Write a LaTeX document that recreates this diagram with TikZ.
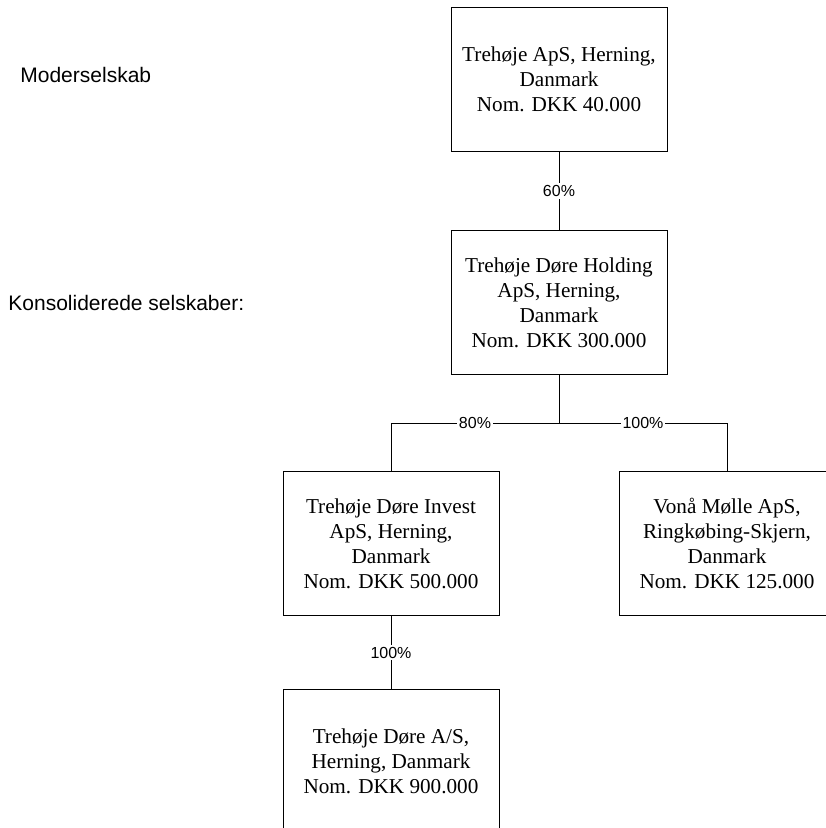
\documentclass[tikz,border=0pt]{standalone}
\usepackage{fontspec}
\setmainfont{Liberation Serif}
\setsansfont{Liberation Sans}
\usepackage{tikz}
\usetikzlibrary{positioning, calc}

\begin{document}
\begin{tikzpicture}[
    node distance=39pt and 36pt,
    company/.style={rectangle, draw=black, line width=0.5pt, fill=white,
        minimum width=108pt, minimum height=72pt, align=center, inner sep=2pt,
        font=\fontsize{10.6}{12.5}\selectfont},
    share/.style={font=\sffamily\fontsize{8}{9}\selectfont, fill=white, inner sep=1pt, midway},
    tierlabel/.style={font=\sffamily\fontsize{10.5}{12}\selectfont, anchor=west, inner sep=0pt},
    link/.style={line width=0.5pt, color=black},
]

\useasboundingbox (0,0) rectangle (412.5pt,-414pt);

% --- Parent ---
\node[company] (parent) at (279.5pt,-39.75pt) {Trehøje ApS, Herning,\\Danmark\\Nom. DKK 40.000};

% --- Holding ---
\node[company, below=39pt of parent] (holding) {Trehøje Døre Holding\\ApS, Herning,\\Danmark\\Nom. DKK 300.000};

% --- Subsidiaries ---
\node[company, below=48pt of holding, xshift=-84pt] (invest) {Trehøje Døre Invest\\ApS, Herning,\\Danmark\\Nom. DKK 500.000};
\node[company, below=48pt of holding, xshift=84pt] (vonaa) {Vonå Mølle ApS,\\Ringkøbing-Skjern,\\Danmark\\Nom. DKK 125.000};
\node[company, below=36.5pt of invest] (doere) {Trehøje Døre A/S,\\Herning, Danmark\\Nom. DKK 900.000};

% --- Tier labels ---
\node[tierlabel] (modertxt) at (10pt,-37.5pt) {Moderselskab};
\node[tierlabel] (konstxt) at (4pt,-151.5pt) {Konsoliderede selskaber:};

% --- Ownership lines ---
\coordinate (split) at ($(holding.south)+(0,-24pt)$);
\draw[link] (parent) -- (holding) node[share] {60\%};
\draw[link] (holding) -- (split);
\draw[link] (split) -| (invest) node[share, pos=0.25] {80\%};
\draw[link] (split) -| (vonaa) node[share, pos=0.25] {100\%};
\draw[link] (invest) -- (doere) node[share] {100\%};

\end{tikzpicture}
\end{document}
